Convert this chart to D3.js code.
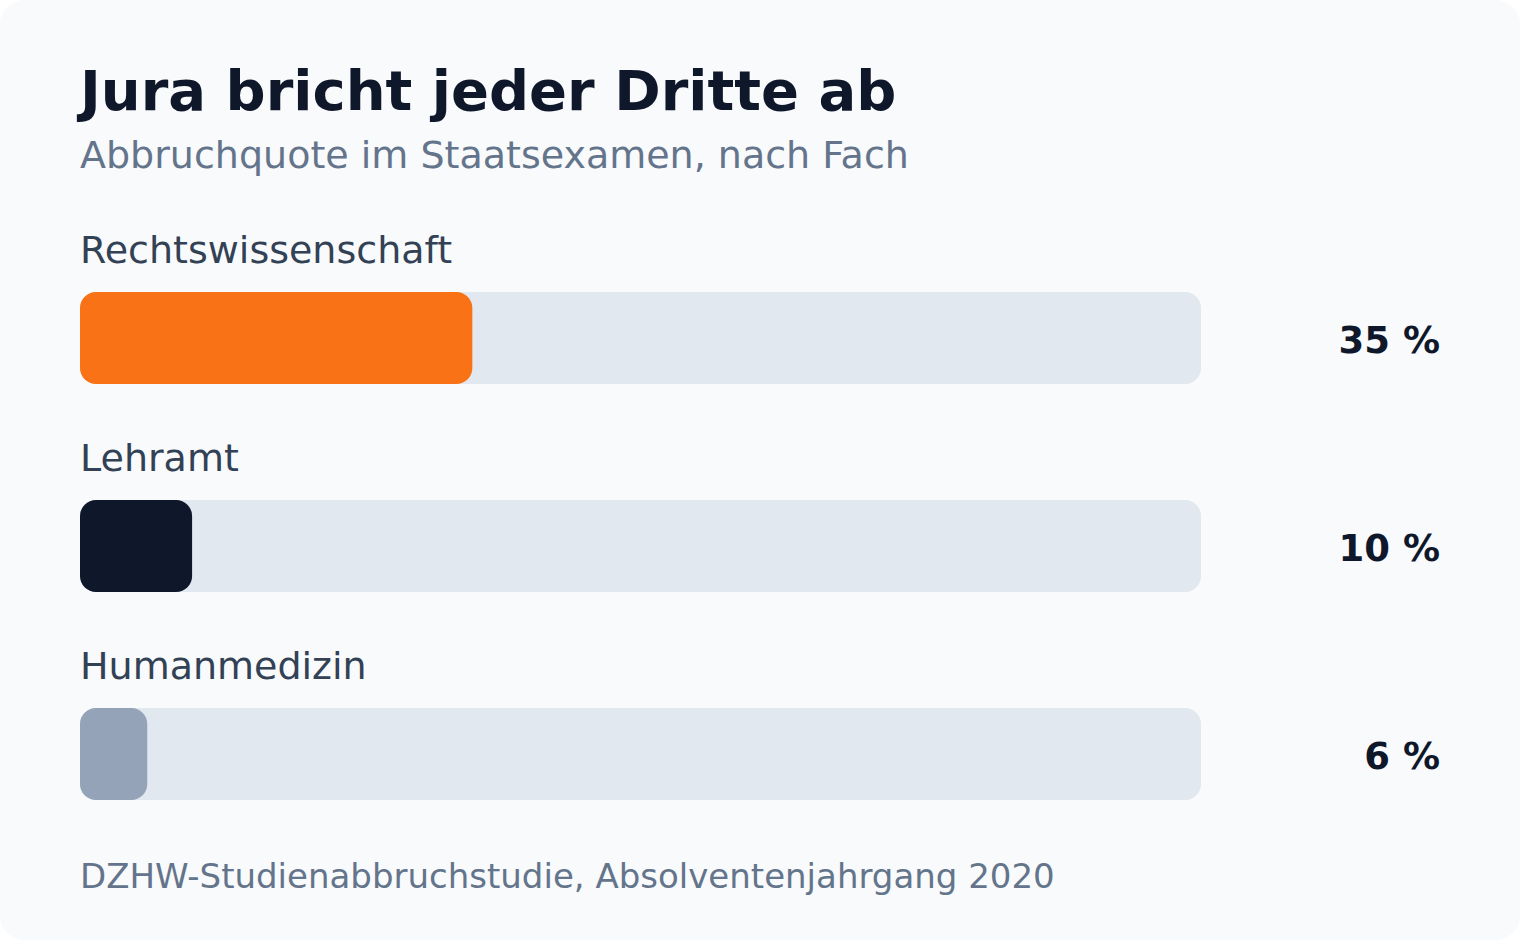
<!DOCTYPE html>
<html>
<head>
<meta charset="utf-8">
<script src="https://cdn.jsdelivr.net/npm/d3@7"></script>
<style>
  html, body { margin: 0; padding: 0; background: #ffffff; }
  svg { display: block; font-family: "DejaVu Sans", sans-serif; }
</style>
</head>
<body>
<div id="chart"></div>
<script>
// data
var faecher = ["Rechtswissenschaft", "Lehramt", "Humanmedizin"];
var quoten = [35, 10, 6];
var farben = ["#f97316", "#0f172a", "#94a3b8"];

var W = 1520, H = 940;

var svg = d3.select("#chart")
    .append("svg")
    .attr("width", W)
    .attr("height", H);

// card
svg.append("rect")
    .attr("width", W)
    .attr("height", H)
    .attr("rx", 24)
    .attr("fill", "#f8fafc");

svg.append("text")
    .attr("x", 80)
    .attr("y", 110)
    .attr("fill", "#0f172a")
    .style("font-size", "56px")
    .style("font-weight", "bold")
    .text("Jura bricht jeder Dritte ab");

svg.append("text")
    .attr("x", 80)
    .attr("y", 168)
    .attr("fill", "#64748b")
    .style("font-size", "38px")
    .text("Abbruchquote im Staatsexamen, nach Fach");

var x = d3.scaleLinear().domain([0, 100]).range([80, 1201]);
var y = d3.scaleBand().domain(faecher).range([292, 292 + 208 * 3]);
var barH = 92;

var rows = svg.selectAll(".row")
    .data(faecher)
    .enter()
    .append("g")
    .attr("class", "row");

rows.append("text")
    .attr("x", 80)
    .attr("y", function(d){ return y(d) - 29; })
    .attr("fill", "#334155")
    .style("font-size", "38px")
    .text(function(d){ return d; });

rows.append("rect")
    .attr("x", x(0))
    .attr("y", function(d){ return y(d); })
    .attr("width", x(100) - x(0))
    .attr("height", barH)
    .attr("rx", 16)
    .attr("fill", "#e2e8f0");

rows.append("rect")
    .attr("x", x(0))
    .attr("y", function(d){ return y(d); })
    .attr("width", function(d, i){ return x(quoten[i]) - x(0); })
    .attr("height", barH)
    .attr("rx", 16)
    .attr("fill", function(d, i){ return farben[i]; });

rows.append("text")
    .attr("x", 1440)
    .attr("y", function(d){ return y(d) + barH / 2 + 15; })
    .attr("text-anchor", "end")
    .attr("fill", "#0f172a")
    .style("font-size", "37px")
    .style("font-weight", "bold")
    .text(function(d, i){ return quoten[i] + " %"; });

svg.append("text")
    .attr("x", 80)
    .attr("y", 888)
    .attr("fill", "#64748b")
    .style("font-size", "34px")
    .text("DZHW-Studienabbruchstudie, Absolventenjahrgang 2020");
</script>
</body>
</html>
